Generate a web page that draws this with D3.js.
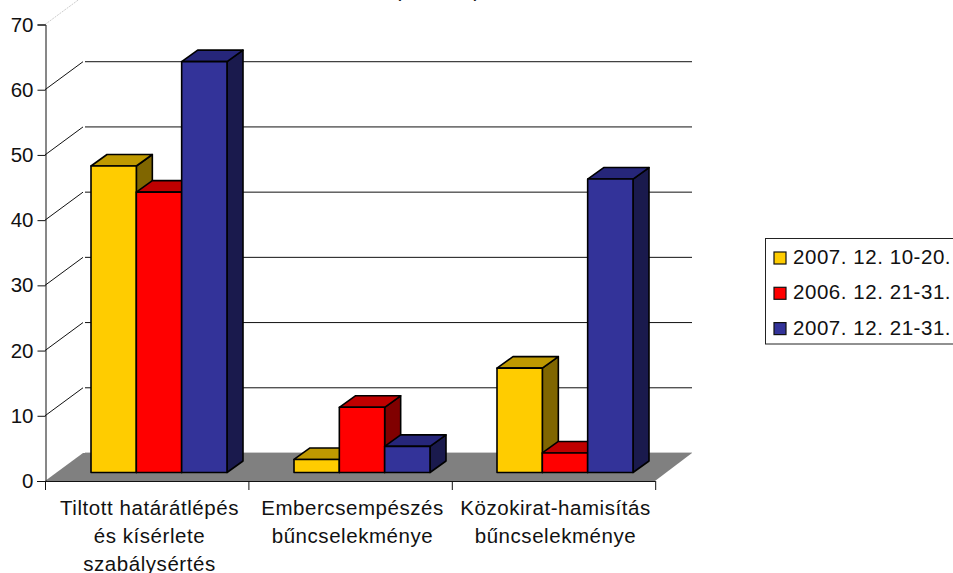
<!DOCTYPE html>
<html><head><meta charset="utf-8">
<script src="https://cdnjs.cloudflare.com/ajax/libs/d3/7.8.5/d3.min.js"></script>
<style>html,body{margin:0;padding:0;background:#fff;overflow:hidden}svg{display:block}text{font-family:"Liberation Sans",Arial,sans-serif;fill:#111}</style>
</head><body><svg id="c" width="953" height="573"></svg>
<script>
const categories = [["Tiltott határátlépés","és kísérlete","szabálysértés"],["Embercsempészés","bűncselekménye"],["Közokirat-hamisítás","bűncselekménye"]];
const seriesNames = ["2007. 12. 10-20.","2006. 12. 21-31.","2007. 12. 21-31."];
const series2007a = [47,2,16];
const series2006 = [43,10,3];
const series2007b = [63,4,45];
const colors = ["#FFCC00","#FF0000","#333399"];
const topColors = ["#BF9900","#BF0000","#26267A"];
const sideColors = ["#806600","#800000","#1A1A4D"];
const yTicks = [0,10,20,30,40,50,60,70];
const values = [series2007a,series2006,series2007b];

const svg = d3.select("#c");
const y = d3.scaleLinear().domain([0,70]).range([481,24.5]);
const x = d3.scaleBand().domain(d3.range(3)).range([45,654]);
const inner = d3.scaleBand().domain(d3.range(3)).range([46,182]);
const wallDx = 38, wallDy = 28, barDx = 16, barDy = 11.5, barInsetY = 8.5;
const right = 655;

// floor
svg.append("path").attr("d",`M${45},${y(0)}L${45+wallDx},${y(0)-wallDy}L${right+37},${y(0)-wallDy}L${right},${y(0)}Z`).attr("fill","#808080");
svg.append("line").attr("x1",85).attr("x2",right+37).attr("y1",y(0)-wallDy-.5).attr("y2",y(0)-wallDy-.5).attr("stroke","#ccc");
// walls + grid
yTicks.filter(d=>d>0).forEach(t=>{
  const top = t===70;
  const wall = svg.append("line").attr("x1",45).attr("y1",y(t)).attr("x2",45+wallDx).attr("y2",y(t)-wallDy).attr("stroke",top?"#ccc":"#111").attr("stroke-width",1);
  if(top) wall.attr("stroke-dasharray","2 1");
  if(!top) svg.append("line").attr("x1",85).attr("x2",right+37).attr("y1",y(t)-wallDy).attr("y2",y(t)-wallDy).attr("stroke","#111").attr("stroke-width",1);
});
// bars
values.forEach((vals,s)=>vals.forEach((v,i)=>{
  const x0 = x(i)+inner(s), w = inner.bandwidth();
  const yb = y(0)-barInsetY, yt = y(v)-barInsetY;
  const g = svg.append("g").attr("stroke","#000").attr("stroke-width",1.6).attr("stroke-linejoin","round");
  g.append("path").attr("fill",sideColors[s]).attr("d",`M${x0+w},${yt}l${barDx},${-barDy}L${x0+w+barDx},${yb-barDy}L${x0+w},${yb}Z`);
  g.append("path").attr("fill",topColors[s]).attr("d",`M${x0},${yt}l${barDx},${-barDy}h${w}l${-barDx},${barDy}Z`);
  g.append("rect").attr("x",x0).attr("y",yt).attr("width",w).attr("height",yb-yt).attr("fill",colors[s]);
}));
// axes
const yAxis = svg.append("g").attr("transform","translate(45.5,0)").call(d3.axisLeft(y).tickValues(yTicks).tickSize(8).tickPadding(4).tickFormat(d3.format("d")));
yAxis.select(".domain").attr("stroke","#111");
yAxis.selectAll("line").attr("stroke","#111");
yAxis.selectAll("text").attr("font-size",20.5).attr("fill","#111").style("font-family","Liberation Sans");
const xg = svg.append("g");
xg.append("line").attr("x1",37).attr("x2",right+.5).attr("y1",481.5).attr("y2",481.5).attr("stroke","#111");
[0,1,2,3].forEach(i=>{const p=45.5+i*203.4;xg.append("line").attr("x1",p).attr("x2",p).attr("y1",481).attr("y2",490).attr("stroke","#111");});
categories.forEach((lines,i)=>{
  const t = svg.append("text").attr("text-anchor","middle").attr("font-size",20.5).attr("letter-spacing",0.55);
  lines.forEach((l,k)=>t.append("tspan").attr("x",x(i)+x.bandwidth()/2+3).attr("y",514.5+k*28).text(l));
});
// title fragment: only the bottoms of the brackets show in the reference
svg.append("text").attr("x",398).attr("y",-3.5).attr("text-anchor","middle").attr("font-size",20.5).text("(");
svg.append("text").attr("x",477).attr("y",-3.5).attr("text-anchor","middle").attr("font-size",20.5).text(")");
// legend
svg.append("rect").attr("x",765.5).attr("y",238.5).attr("width",200).attr("height",105.5).attr("fill","#fff").attr("stroke","#222");
seriesNames.forEach((n,i)=>{
  const cy = 258+i*35.3;
  svg.append("rect").attr("x",774).attr("y",cy-6).attr("width",12).attr("height",12).attr("fill",colors[i]).attr("stroke","#111").attr("stroke-width",1.2);
  svg.append("text").attr("x",793).attr("y",cy+6).attr("font-size",20.5).attr("letter-spacing",0.55).text(n);
});
</script></body></html>
